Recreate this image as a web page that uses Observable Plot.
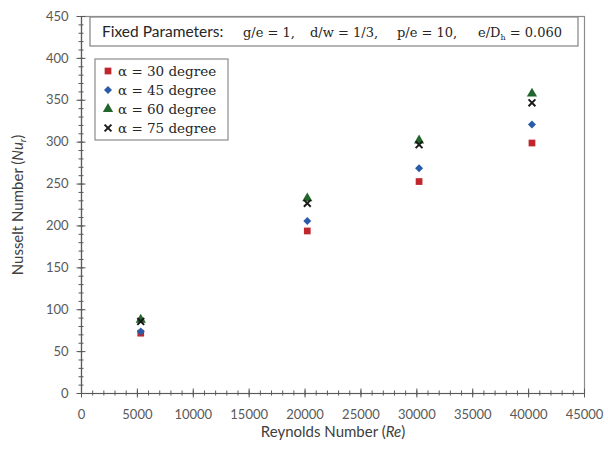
<!DOCTYPE html>
<html>
<head>
<meta charset="utf-8">
<script src="https://cdn.jsdelivr.net/npm/d3@7"></script>
<script src="https://cdn.jsdelivr.net/npm/@observablehq/plot@0.6"></script>
<style>
  html, body { margin: 0; padding: 0; background: #ffffff; }
  #chart { width: 608px; height: 454px; }
</style>
</head>
<body>
<div id="chart"></div>
<script>
// Reynolds numbers tested and the measured Nusselt numbers for each rib angle
const reynolds = [5300, 20200, 30200, 40300];
const nu30 = [72, 194, 253, 299];
const nu45 = [74, 206, 269, 321];
const nu60 = [88, 233, 302, 358];
const nu75 = [86, 227, 297, 347];
const seriesLabels = ["α = 30 degree", "α = 45 degree", "α = 60 degree", "α = 75 degree"];

// Axis ticks
const xTicks = d3.range(0, 45001, 5000);
const yTicks = d3.range(0, 451, 50);
const xMinor = d3.range(0, 45001, 1000);
const yMinor = d3.range(0, 451, 10);

const series = [
  {label: seriesLabels[0], values: nu30, symbol: "square",   fill: "#c0272d", stroke: "none", r: 3.8},
  {label: seriesLabels[1], values: nu45, symbol: "diamond2", fill: "#2a5ba8", stroke: "none", r: 3.6},
  {label: seriesLabels[2], values: nu60, symbol: "triangle", fill: "#22662c", stroke: "none", r: 3.8},
  {label: seriesLabels[3], values: nu75, symbol: "times",    fill: "none",    stroke: "#1a1a1a", r: 3.2}
];

const W = 608, H = 454;
const axisColor = "#5a5a5a";
const tickLabelColor = "#595959";

const plot = Plot.plot({
  width: W,
  height: H,
  marginLeft: 81,
  marginRight: 24,
  marginTop: 16,
  marginBottom: 61,
  style: {fontFamily: "Lato, sans-serif", background: "#ffffff"},
  x: {domain: [0, 45000]},
  y: {domain: [0, 450]},
  marks: [
    Plot.frame({stroke: "#8c8c8c", strokeWidth: 1.2}),
    // axis lines
    Plot.ruleY([0], {stroke: axisColor, strokeWidth: 1.2}),
    Plot.ruleX([0], {stroke: axisColor, strokeWidth: 1.2}),
    // minor and major tick marks crossing the axes
    Plot.ruleX(xMinor, {x: d => d, y1: 0, y2: 0, insetTop: -2.5, insetBottom: -2.5, stroke: axisColor}),
    Plot.ruleX(xTicks, {x: d => d, y1: 0, y2: 0, insetTop: -4.5, insetBottom: -4.5, stroke: axisColor}),
    Plot.ruleY(yMinor, {y: d => d, x1: 0, x2: 0, insetLeft: -2.5, insetRight: -2.5, stroke: axisColor}),
    Plot.ruleY(yTicks, {y: d => d, x1: 0, x2: 0, insetLeft: -4.5, insetRight: -4.5, stroke: axisColor}),
    Plot.axisX(xTicks, {tickSize: 0, tickPadding: 16, tickFormat: "d", fontSize: 13, fill: tickLabelColor, label: null}),
    Plot.axisY(yTicks, {tickSize: 0, tickPadding: 13, tickFormat: "d", fontSize: 13, fill: tickLabelColor, label: null}),
    // one set of markers per rib angle
    ...series.map(s => Plot.dot(reynolds, {
      x: d => d,
      y: (d, i) => s.values[i],
      symbol: s.symbol,
      r: s.r,
      fill: s.fill,
      stroke: s.stroke,
      strokeWidth: s.stroke === "none" ? 0 : 2
    }))
  ]
});

document.getElementById("chart").appendChild(plot);

const svg = d3.select(plot);
const serif = "'DejaVu Serif', serif";

// Axis titles
const xTitle = svg.append("text")
  .attr("x", 333).attr("y", 437)
  .attr("text-anchor", "middle")
  .attr("font-family", "Lato, sans-serif").attr("font-size", 15)
  .attr("fill", "#404040");
xTitle.append("tspan").text("Reynolds Number (");
xTitle.append("tspan").attr("font-style", "italic").text("Re");
xTitle.append("tspan").text(")");

const yTitle = svg.append("text")
  .attr("transform", "translate(23,205) rotate(-90)")
  .attr("text-anchor", "middle")
  .attr("font-family", "Lato, sans-serif").attr("font-size", 15)
  .attr("fill", "#404040");
yTitle.append("tspan").text("Nusselt Number (");
yTitle.append("tspan").attr("font-style", "italic").text("Nu");
yTitle.append("tspan").attr("font-style", "italic").attr("font-size", 10).attr("dy", 3).text("r");
yTitle.append("tspan").attr("dy", -3).text(")");

// Fixed-parameter box
const params = svg.append("g").attr("text-anchor", "start");
params.append("rect")
  .attr("x", 90).attr("y", 17).attr("width", 488).attr("height", 29)
  .attr("fill", "#ffffff").attr("stroke", "#8c8c8c").attr("stroke-width", 1.3);
const paramY = 37;
params.append("text").attr("x", 102).attr("y", paramY)
  .attr("font-family", "Lato, sans-serif").attr("font-size", 15.5).attr("fill", "#262626")
  .text("Fixed Parameters:");
const paramParts = [
  {x: 243, text: "g/e = 1,"},
  {x: 310, text: "d/w = 1/3,"},
  {x: 397, text: "p/e = 10,"}
];
paramParts.forEach(p => {
  params.append("text").attr("x", p.x).attr("y", paramY)
    .attr("font-family", serif).attr("font-size", 13).attr("fill", "#262626")
    .text(p.text);
});
const dh = params.append("text").attr("x", 478).attr("y", paramY)
  .attr("font-family", serif).attr("font-size", 13).attr("fill", "#262626");
dh.append("tspan").text("e/D");
dh.append("tspan").attr("font-size", 8).attr("dy", 3).text("h");
dh.append("tspan").attr("dy", -3).text(" = 0.060");

// Legend
const legend = svg.append("g").attr("text-anchor", "start");
legend.append("rect")
  .attr("x", 95).attr("y", 59).attr("width", 133).attr("height", 81)
  .attr("fill", "#ffffff").attr("stroke", "#8c8c8c").attr("stroke-width", 1.2);
const symbolTypes = {
  square: d3.symbolSquare, diamond2: d3.symbolDiamond2,
  triangle: d3.symbolTriangle, times: d3.symbolTimes
};
series.forEach((s, k) => {
  const cy = 71 + k * 19;
  legend.append("path")
    .attr("transform", `translate(108,${cy})`)
    .attr("d", d3.symbol(symbolTypes[s.symbol], Math.PI * s.r * s.r)())
    .attr("fill", s.fill).attr("stroke", s.stroke)
    .attr("stroke-width", s.stroke === "none" ? 0 : 2);
  legend.append("text")
    .attr("x", 118).attr("y", cy).attr("dy", "0.35em")
    .attr("font-family", serif).attr("font-size", 13.5).attr("fill", "#262626")
    .text(s.label);
});
</script>
</body>
</html>
